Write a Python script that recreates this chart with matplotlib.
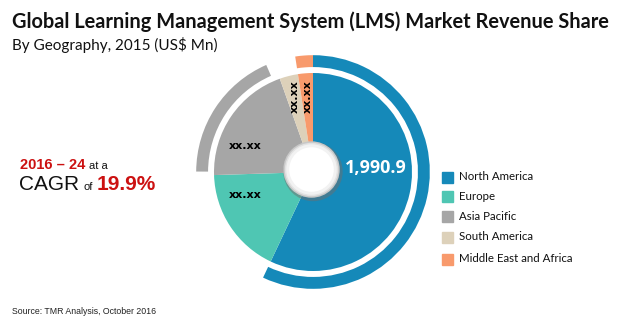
import matplotlib
matplotlib.use('Agg')
import matplotlib.pyplot as plt
from matplotlib.patches import Circle, Rectangle

# data
regions = ['North America', 'Europe', 'Asia Pacific', 'South America', 'Middle East and Africa']
revenue = [1990.9, 610, 700, 105, 85]
labels = ['1,990.9', 'xx.xx', 'xx.xx', 'xx.xx', 'xx.xx']
colors = ['#1589B9', '#4FC6B3', '#A6A6A6', '#DDD1BA', '#F89A6C']
ring = [True, False, True, False, True]   # regions with outer arc

W, H = 620, 325
fig = plt.figure(figsize=(W / 100, H / 100), dpi=100)

# title block
fig.text(12 / W, 1 - 22 / H, 'Global Learning Management System (LMS) Market Revenue Share',
         family='Lato', fontsize=14.4, fontweight='bold', va='center', ha='left', color='#111111')
fig.text(12 / W, 1 - 45 / H, 'By Geography, 2015 (US$ Mn)',
         family='Lato', fontsize=11, va='center', ha='left', color='#111111')
fig.text(12 / W, 1 - 311 / H, 'Source: TMR Analysis, October 2016',
         family='Liberation Sans', fontsize=6.3, va='center', ha='left', color='#222222')

# CAGR block, pieces placed one after the other
red = '#CC1111'
renderer = fig.canvas.get_renderer()


def run(x, y, parts):
    for txt, size, bold, col in parts:
        t = fig.text(x / W, 1 - y / H, txt, family='Liberation Sans', fontsize=size,
                     fontweight='bold' if bold else 'normal', color=col, va='baseline')
        x += t.get_window_extent(renderer).width + 4


run(20, 169, [('2016 \u2013 24', 10.5, True, red), ('at a', 8, False, '#111111')])
run(19, 190, [('CAGR', 15, False, '#111111'), ('of', 8, False, '#111111'),
              ('19.9%', 15, True, red)])

# pie axes, centre (313, 172) px, 1 unit = 99 px
cx, cy, unit, half = 313, 172, 99, 130
ax = fig.add_axes([(cx - half) / W, (H - cy - half) / H, 2 * half / W, 2 * half / H])

wedges, _ = ax.pie(revenue, colors=colors, startangle=90, counterclock=False, radius=1.0,
                   wedgeprops=dict(linewidth=0))

ring_colors = [c if r else (1, 1, 1, 0) for c, r in zip(colors, ring)]
outer, _ = ax.pie(revenue, colors=ring_colors, startangle=90, counterclock=False,
                  radius=1.18, wedgeprops=dict(width=0.12, linewidth=0))
# asia pacific arc a bit shorter than its slice
outer[2].set_theta1(outer[2].theta1 + 4)
outer[2].set_theta2(outer[2].theta2 - 2)

ax.set_xlim(-half / unit, half / unit)
ax.set_ylim(-half / unit, half / unit)
ax.set_aspect('equal')
ax.axis('off')

# centre knob with soft shadow
ax.add_patch(Circle((0.0, 0.005), 0.30, color='#6E6E6E', alpha=0.5, lw=0, zorder=5))
for r, c in [(0.285, '#C8C8C8'), (0.27, '#E2E2E2'), (0.255, '#F2F2F2'), (0.225, 'white')]:
    ax.add_patch(Circle((-0.015, 0.025), r, color=c, lw=0, zorder=5))

# value labels
ax.text(0.63, 0.04, labels[0], color='white', fontsize=13, fontweight='bold',
        family='Open Sans', ha='center', va='center', zorder=6)
ax.text(-0.68, -0.23, labels[1], fontsize=8, fontweight='bold', family='DejaVu Sans',
        ha='center', va='center')
ax.text(-0.68, 0.26, labels[2], fontsize=8, fontweight='bold', family='DejaVu Sans',
        ha='center', va='center')
ax.text(-0.18, 0.76, labels[3], fontsize=8, fontweight='bold', family='DejaVu Sans',
        ha='center', va='center', rotation=90)
ax.text(-0.055, 0.76, labels[4], fontsize=8, fontweight='bold', family='DejaVu Sans',
        ha='center', va='center', rotation=90)

# legend
rows = [177, 196, 216, 237, 259]
for name, c, y in zip(regions, colors, rows):
    fig.patches.append(Rectangle((442 / W, 1 - (y + 6) / H), 11 / W, 11 / H, color=c,
                                 transform=fig.transFigure, figure=fig))
    fig.text(459 / W, 1 - y / H, name, family='Lato', fontsize=8.3, va='center', ha='left',
             color='#111111')

fig.savefig('out.png', dpi=100)
